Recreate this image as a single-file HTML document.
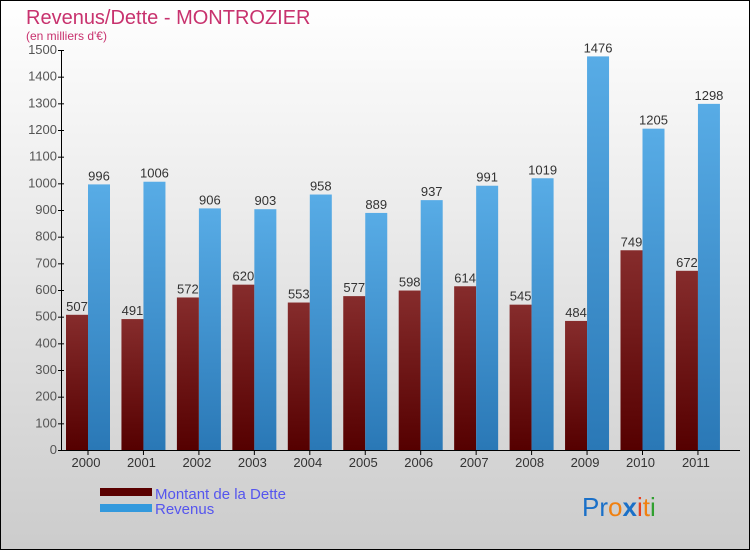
<!DOCTYPE html>
<html><head><meta charset="utf-8"><style>
html,body{margin:0;padding:0}
body{width:750px;height:550px;overflow:hidden;font-family:"Liberation Sans",sans-serif}
svg text{font-family:"Liberation Sans",sans-serif}
</style></head><body>
<svg width="750" height="550" xmlns="http://www.w3.org/2000/svg">
<defs>
<linearGradient id="bg" x1="0" y1="0" x2="0" y2="1"><stop offset="0" stop-color="#ffffff"/><stop offset="1" stop-color="#cccccc"/></linearGradient>
<linearGradient id="gd" x1="0" y1="0" x2="0" y2="1"><stop offset="0" stop-color="#862c2c"/><stop offset="1" stop-color="#550000"/></linearGradient>
<linearGradient id="gr" x1="0" y1="0" x2="0" y2="1"><stop offset="0" stop-color="#58ace6"/><stop offset="1" stop-color="#2a78b6"/></linearGradient>
</defs>
<rect x="0.5" y="0.5" width="749" height="549" fill="url(#bg)" stroke="#000"/>
<text x="26" y="24" font-size="20" fill="#c8326e">Revenus/Dette - MONTROZIER</text>
<text x="26" y="40" font-size="12" fill="#c8326e">(en milliers d'€)</text>
<g id="yaxis"></g>
<g id="bars"></g>
<g id="xaxis"></g>
<rect x="100" y="488" width="52" height="8" fill="#5a0000"/>
<text x="155" y="499" font-size="15" fill="#5555ee">Montant de la Dette</text>
<rect x="100" y="504" width="52" height="8" fill="#3399dd"/>
<text x="155" y="514" font-size="15" fill="#5555ee">Revenus</text>
<text x="582" y="516" font-size="26"><tspan fill="#1a70c8">Pr</tspan><tspan fill="#f08010">o</tspan><tspan fill="#1a70c8" font-weight="bold">x</tspan><tspan fill="#e84020">i</tspan><tspan fill="#f08010">t</tspan><tspan fill="#30a030">i</tspan></text>
</svg>
<script>
const years=["2000","2001","2002","2003","2004","2005","2006","2007","2008","2009","2010","2011"];
const dette=[507,491,572,620,553,577,598,614,545,484,749,672];
const revenus=[996,1006,906,903,958,889,937,991,1019,1476,1205,1298];
const yTicks=[0,100,200,300,400,500,600,700,800,900,1000,1100,1200,1300,1400,1500];
const NS="http://www.w3.org/2000/svg";
const y0=450,yTop=50,yMax=1500;
function Y(v){return y0-(v/yMax)*(y0-yTop);}
function X(i){return 66+i*55.45;}
function mk(tag,attrs,parent,text){const e=document.createElementNS(NS,tag);for(const k in attrs)e.setAttribute(k,attrs[k]);if(text!==undefined)e.textContent=text;parent.appendChild(e);return e;}
const ya=document.getElementById('yaxis'),bg=document.getElementById('bars'),xa=document.getElementById('xaxis');
let l=mk('line',{x1:61.5,y1:yTop,x2:61.5,y2:y0,stroke:'#000'},ya);


yTicks.forEach(v=>{
 const t=mk('line',{x1:58,x2:64,y1:Y(v)+0.5,y2:Y(v)+0.5,stroke:'#000'},ya);
 
 
 const tx=mk('text',{x:57,y:Y(v)+4,'font-size':13,fill:'#555','text-anchor':'end'},ya,String(v));
 
 
});
let xl=mk('line',{x1:61,y1:450.5,x2:740,y2:450.5,stroke:'#000'},xa);


years.forEach((yr,i)=>{
 const x=X(i);
 const d=mk('rect',{x:x,y:Y(dette[i]),width:22,height:y0-Y(dette[i]),fill:'url(#gd)'},bg);
 
 
 const r=mk('rect',{x:x+22,y:Y(revenus[i]),width:22,height:y0-Y(revenus[i]),fill:'url(#gr)'},bg);
 
 
 const ld=mk('text',{x:x+11,y:Y(dette[i])-4,'font-size':13,fill:'#333','text-anchor':'middle'},bg,String(dette[i]));
 
 
 const lr=mk('text',{x:x+33,y:Y(revenus[i])-4,'font-size':13,fill:'#333','text-anchor':'middle'},bg,String(revenus[i]));
 
 
 const tk=mk('line',{x1:x+22,x2:x+22,y1:450,y2:455,stroke:'#000'},xa);
 
 
 const tl=mk('text',{x:x+20,y:467,'font-size':13,fill:'#333','text-anchor':'middle'},xa,yr);
 
 
});
</script>
</body></html>
